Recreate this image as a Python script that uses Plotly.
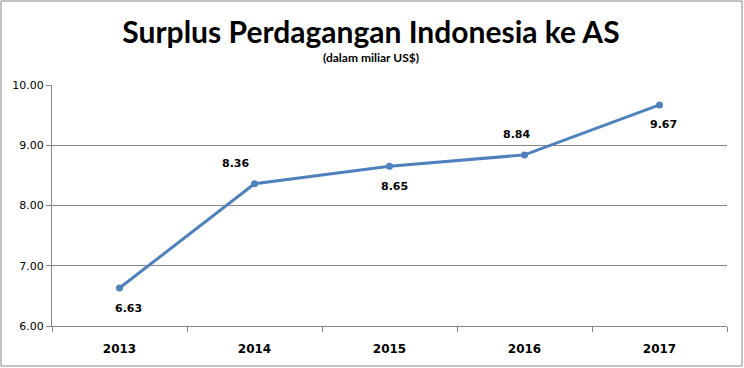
import plotly.graph_objects as go

years = ["2013", "2014", "2015", "2016", "2017"]
values = [6.63, 8.36, 8.65, 8.84, 9.67]
label_side = [-1, 1, -1, 1, -1]  # -1 below, +1 above
label_dx = [9, -19, 5, -8, 4]
y_ticks = [6, 7, 8, 9, 10]

xs = list(range(len(years)))
L, R, T, B = 52, 17, 85, 42
W, H = 744, 368
pw, ph = W - L - R, H - T - B

fig = go.Figure()
fig.add_trace(go.Scatter(
    x=xs, y=values, mode="lines+markers",
    line=dict(color="#4F81BD", width=3),
    marker=dict(color="#4F81BD", size=7),
    cliponaxis=False, showlegend=False, hoverinfo="x+y",
))

for x, v, s, dx in zip(xs, values, label_side, label_dx):
    fig.add_annotation(x=x, y=v, xref="x", yref="y", text=f"<b>{v:.2f}</b>",
                       showarrow=False, yshift=20 * s, xshift=dx,
                       font=dict(family="DejaVu Sans", size=11, color="black"))

fig.update_layout(
    width=W, height=H, margin=dict(l=L, r=R, t=T, b=B),
    paper_bgcolor="white", plot_bgcolor="white",
    title=dict(text="<b>Surplus Perdagangan Indonesia ke AS</b>", x=(W / 2 - 1) / W, xanchor="center",
               y=1 - 32 / H, yanchor="middle",
               font=dict(family="Lato", size=30, color="black")),
    xaxis=dict(range=[-0.5, 4.5], tickvals=xs, ticktext=[f"<b>{y}</b>" for y in years],
               ticks="", showgrid=False, showline=True, linecolor="#868686", linewidth=1,
               zeroline=False, ticklabelstandoff=12,
               tickfont=dict(family="DejaVu Sans", size=12, color="black"),
               minor=dict(tickvals=[-0.5, 0.5, 1.5, 2.5, 3.5, 4.5], ticks="outside",
                          ticklen=5, tickcolor="#868686", showgrid=False)),
    yaxis=dict(range=[6, 10], tickvals=y_ticks, ticktext=[f"{v:.2f}" for v in y_ticks],
               showgrid=True, gridcolor="#868686", gridwidth=1, showline=True,
               linecolor="#868686", ticks="outside", ticklen=5, tickcolor="#868686",
               zeroline=False, tickfont=dict(family="DejaVu Sans", size=11, color="black")),
)

fig.add_annotation(text="<b>(dalam miliar US$)</b>", xref="paper", yref="paper",
                   x=(371 - L) / pw, y=(H - B - 58) / ph,
                   showarrow=False, xanchor="center", yanchor="middle",
                   font=dict(family="Lato", size=12, color="black"))

fig.add_shape(type="rect", xref="paper", yref="paper",
              x0=(1 - L) / pw, x1=(W - 2 - L) / pw,
              y0=(H - B - (H - 2)) / ph, y1=(H - B - 1) / ph,
              line=dict(color="#868686", width=1), fillcolor="rgba(0,0,0,0)")

fig.write_html("out.html", config={"displayModeBar": False},
               post_script="document.body.style.margin='0';document.body.style.overflow='hidden';")
